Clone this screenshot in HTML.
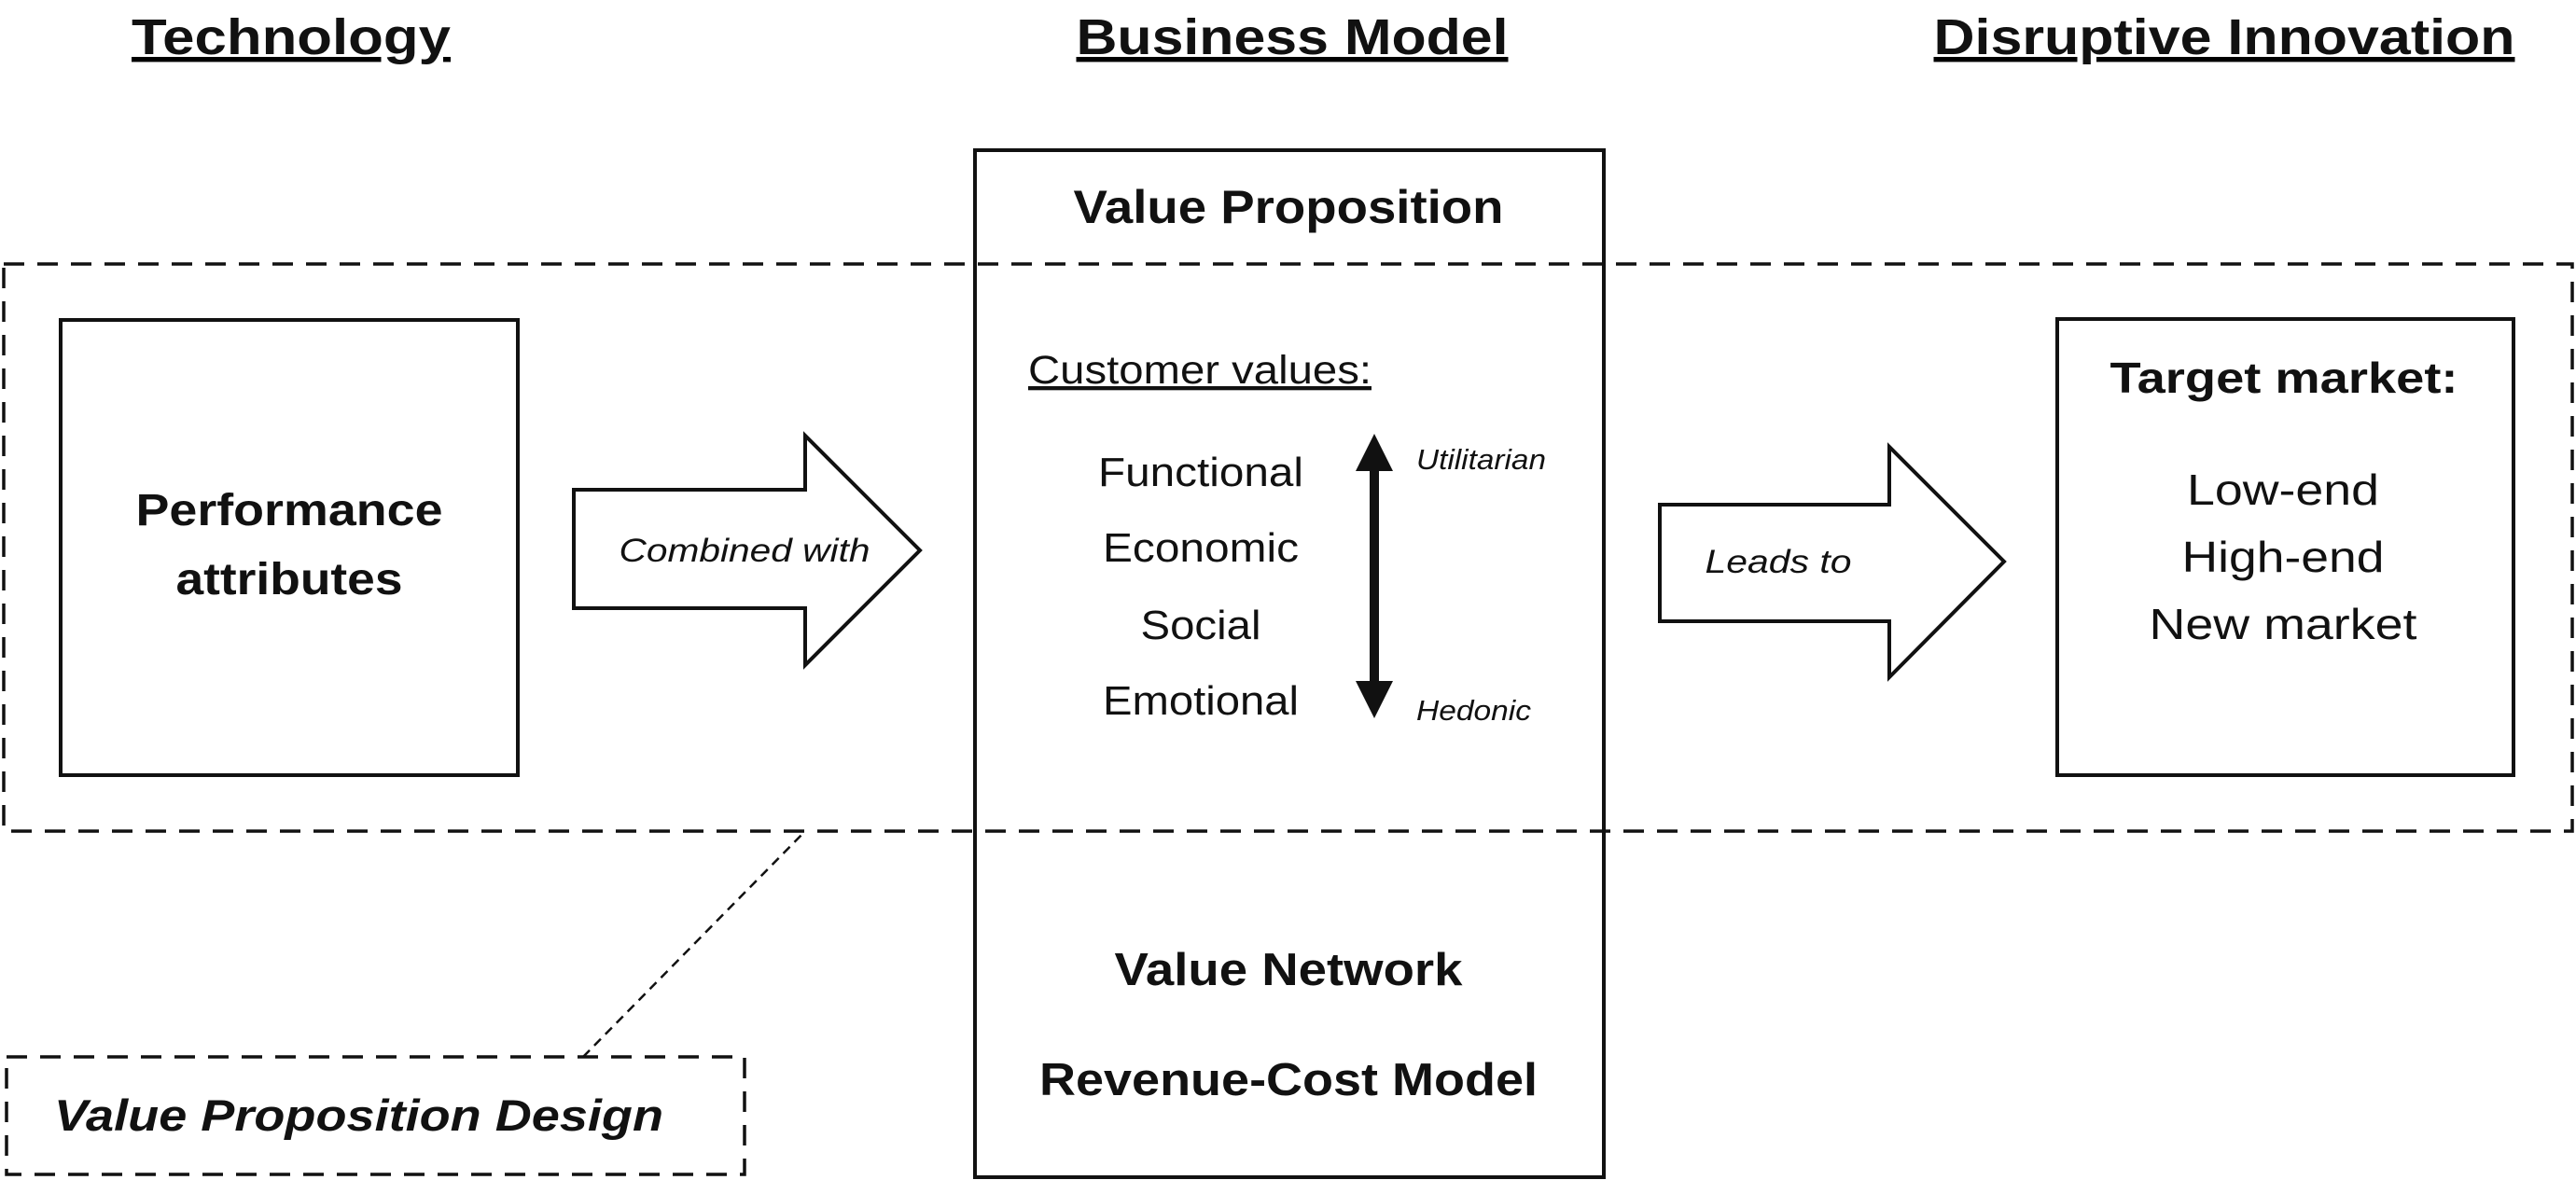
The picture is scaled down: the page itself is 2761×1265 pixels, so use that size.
<!DOCTYPE html>
<html><head><meta charset="utf-8"><style>html,body{margin:0;padding:0;background:#fff}svg{display:block}text{font-family:"Liberation Sans",Arial,sans-serif;fill:#111}</style></head>
<body>
<svg width="2761" height="1265" viewBox="0 0 2761 1265" xmlns="http://www.w3.org/2000/svg">
<g font-weight="bold" font-size="54" text-anchor="middle" text-decoration="underline">
<text x="312" y="58" textLength="342" lengthAdjust="spacingAndGlyphs">Technology</text>
<text x="1385" y="58" textLength="463" lengthAdjust="spacingAndGlyphs">Business Model</text>
<text x="2384" y="58" textLength="623" lengthAdjust="spacingAndGlyphs">Disruptive Innovation</text>
</g>
<g fill="none" stroke="#111" stroke-width="4">
<rect x="1045" y="161" width="674" height="1101"/>
<rect x="65" y="343" width="490" height="488"/>
<rect x="2205" y="342" width="489" height="489"/>
<polygon points="615,525 863,525 863,467 986,590 863,713 863,652 615,652" fill="#fff"/>
<polygon points="1779,541 2025,541 2025,479 2148,602 2025,726 2025,666 1779,666" fill="#fff"/>
</g>
<g fill="none" stroke="#111" stroke-width="3.5" stroke-dasharray="22,14">
<rect x="4" y="283" width="2753" height="608"/>
<rect x="7" y="1133" width="791" height="126"/>
</g>
<line x1="625" y1="1133" x2="863" y2="891" stroke="#111" stroke-width="2.5" stroke-dasharray="10,7"/>
<line x1="1473" y1="500" x2="1473" y2="735" stroke="#111" stroke-width="10"/>
<polygon points="1473,465 1493,505 1453,505" fill="#111"/>
<polygon points="1473,770 1493,730 1453,730" fill="#111"/>
<g text-anchor="middle" lengthAdjust="spacingAndGlyphs">
<text x="1381" y="239" font-weight="bold" font-size="50" textLength="461" lengthAdjust="spacingAndGlyphs">Value Proposition</text>
<text x="1287" y="521" font-size="44" textLength="220" lengthAdjust="spacingAndGlyphs">Functional</text>
<text x="1287" y="602" font-size="44" textLength="210" lengthAdjust="spacingAndGlyphs">Economic</text>
<text x="1287" y="685" font-size="44" textLength="129" lengthAdjust="spacingAndGlyphs">Social</text>
<text x="1287" y="766" font-size="44" textLength="210" lengthAdjust="spacingAndGlyphs">Emotional</text>
<text x="310" y="563" font-weight="bold" font-size="48" textLength="329" lengthAdjust="spacingAndGlyphs">Performance</text>
<text x="310" y="637" font-weight="bold" font-size="48" textLength="243" lengthAdjust="spacingAndGlyphs">attributes</text>
<text x="798" y="602" font-style="italic" font-size="35" textLength="269" lengthAdjust="spacingAndGlyphs">Combined with</text>
<text x="1906" y="614" font-style="italic" font-size="35" textLength="157" lengthAdjust="spacingAndGlyphs">Leads to</text>
<text x="2448" y="421" font-weight="bold" font-size="46" textLength="373" lengthAdjust="spacingAndGlyphs">Target market:</text>
<text x="2447" y="541" font-size="46" textLength="206" lengthAdjust="spacingAndGlyphs">Low-end</text>
<text x="2447" y="613" font-size="46" textLength="217" lengthAdjust="spacingAndGlyphs">High-end</text>
<text x="2447" y="685" font-size="46" textLength="287" lengthAdjust="spacingAndGlyphs">New market</text>
<text x="1381" y="1056" font-weight="bold" font-size="49" textLength="373" lengthAdjust="spacingAndGlyphs">Value Network</text>
<text x="1381" y="1174" font-weight="bold" font-size="49" textLength="534" lengthAdjust="spacingAndGlyphs">Revenue-Cost Model</text>
</g>
<text x="1102" y="411" font-size="43" text-decoration="underline" textLength="368" lengthAdjust="spacingAndGlyphs">Customer values:</text>
<text x="1518" y="503" font-style="italic" font-size="31" textLength="139" lengthAdjust="spacingAndGlyphs">Utilitarian</text>
<text x="1518" y="772" font-style="italic" font-size="31" textLength="123" lengthAdjust="spacingAndGlyphs">Hedonic</text>
<text x="58" y="1212" font-weight="bold" font-style="italic" font-size="47" textLength="653" lengthAdjust="spacingAndGlyphs">Value Proposition Design</text>
</svg>
</body></html>
